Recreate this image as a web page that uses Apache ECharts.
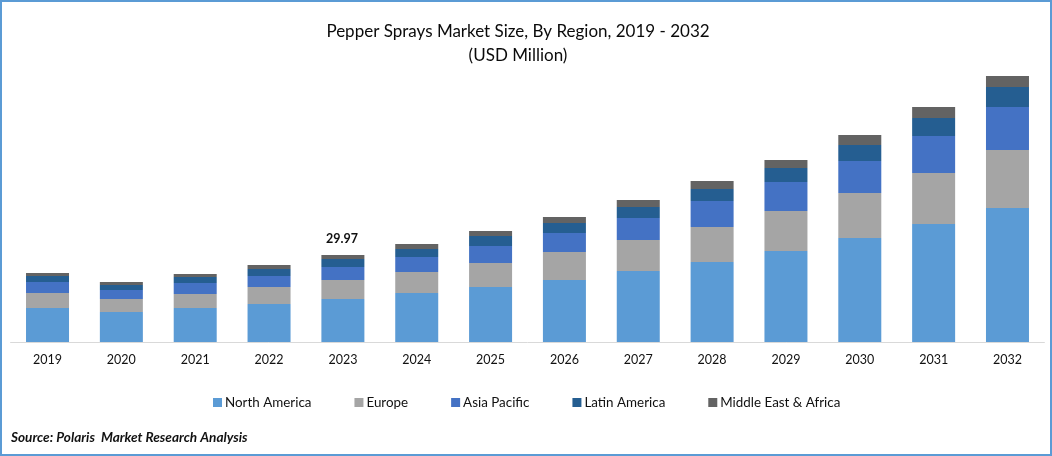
<!DOCTYPE html>
<html><head><meta charset="utf-8">
<style>html,body{margin:0;padding:0;background:#fff}#c{width:1052px;height:456px}</style>
<script src="https://cdn.jsdelivr.net/npm/echarts@6/dist/echarts.min.js"></script>
</head><body><div id="c"></div>
<script>
const years=['2019','2020','2021','2022','2023','2024','2025','2026','2027','2028','2029','2030','2031','2032'];
const northAmerica=[11.72,10.34,11.72,13.10,14.83,16.90,18.97,21.38,24.48,27.59,31.38,35.86,40.69,46.20];
const europe=[5.17,4.48,4.83,5.86,6.55,7.24,8.28,9.66,10.69,12.07,13.79,15.52,17.59,20.00];
const asiaPacific=[3.79,3.10,3.79,3.79,4.48,5.17,5.86,6.55,7.59,8.97,10.00,11.03,12.76,14.83];
const latinAmerica=[2.07,1.72,2.07,2.41,2.76,2.76,3.45,3.45,3.79,4.14,4.83,5.52,6.21,6.90];
const middleEastAfrica=[1.03,1.03,1.03,1.38,1.35,1.72,1.72,2.07,2.41,2.76,2.76,3.45,3.79,3.79];
const labelled='2023', labelText='29.97';
const font='Lato';
const names=['North America','Europe','Asia Pacific','Latin America','Middle East & Africa'];
const colors=['#5B9BD5','#A5A5A5','#4472C4','#255E91','#636363'];
const vals=[northAmerica,europe,asiaPacific,latinAmerica,middleEastAfrica];
const chart=echarts.init(document.getElementById('c'),null,{renderer:'canvas'});
chart.setOption({
  animation:false,backgroundColor:'#fff',
  title:{text:'Pepper Sprays Market Size, By Region, 2019 - 2032\n(USD Million)',left:513,top:15,textAlign:'center',
    textStyle:{fontFamily:font,fontSize:17,fontWeight:'normal',color:'#0a0a0a',lineHeight:24}},
  legend:{bottom:42,left:208,itemWidth:9,itemHeight:9,itemGap:43,icon:'rect',
    textStyle:{fontFamily:font,fontSize:13.4,color:'#111',padding:[0,0,0,-2]},data:names},
  grid:{left:10.6,width:1033.8,top:52,height:290},
  xAxis:{type:'category',data:years,axisTick:{show:false},
    axisLine:{lineStyle:{color:'#D9D9D9',width:1}},
    axisLabel:{fontFamily:font,fontSize:12.5,color:'#111',margin:11}},
  yAxis:{type:'value',min:0,max:100,show:false,splitLine:{show:false}},
  series:names.map((n,i)=>({name:n,type:'bar',stack:'t',barWidth:43,itemStyle:{color:colors[i]},
    data:vals[i].map((v,j)=>(i===4&&years[j]===labelled)?{value:v,label:{show:true,position:'top',distance:10,offset:[-1,0],formatter:labelText,
      fontFamily:font,fontSize:12.5,fontWeight:'bold',color:'#111'}}:v)})),
  graphic:[
    {type:'rect',z:100,silent:true,shape:{x:1,y:1,width:1050,height:454},style:{fill:'none',stroke:'#5B9BD5',lineWidth:2}},
    {type:'text',left:11,top:431,style:{text:'Source: Polaris  Market Research Analysis',fontFamily:font,fontSize:13.6,fontWeight:'bold',fontStyle:'italic',fill:'#111'}}
  ]
});
</script></body></html>
